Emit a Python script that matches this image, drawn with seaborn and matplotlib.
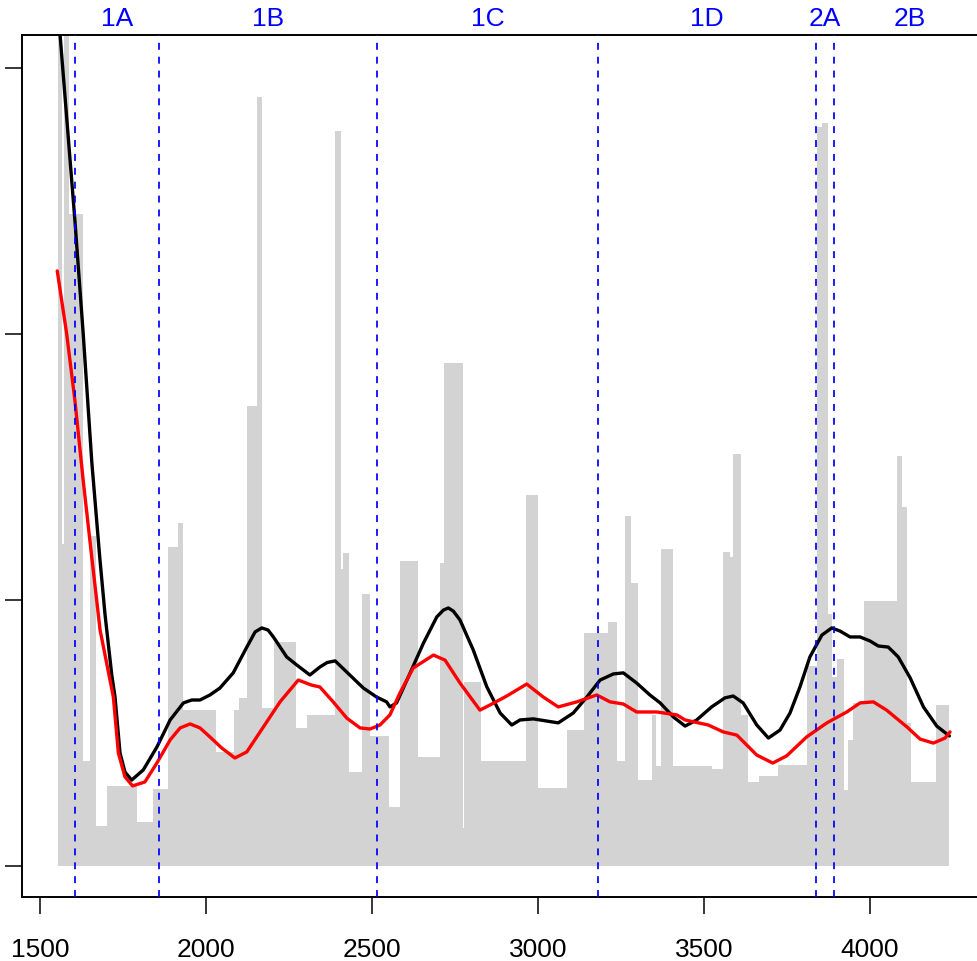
import numpy as np
import pandas as pd
import matplotlib
matplotlib.use("Agg")
import matplotlib.pyplot as plt
import matplotlib.transforms as mtransforms
import seaborn as sns

# Step profile: bin edges (position) and bin heights
bin_edges = [1553, 1567, 1571, 1588, 1630, 1651, 1670, 1702, 1792, 1839, 1886, 1915,
             1932, 2030, 2085, 2099, 2124, 2155, 2168, 2205, 2270, 2304, 2389, 2406,
             2412, 2431, 2471, 2494, 2551, 2584, 2640, 2705, 2717, 2773, 2777, 2828,
             2963, 3001, 3086, 3140, 3210, 3237, 3262, 3279, 3302, 3343, 3355, 3370,
             3406, 3523, 3556, 3578, 3586, 3611, 3633, 3667, 3724, 3809, 3840, 3856,
             3872, 3885, 3900, 3922, 3935, 3950, 3982, 4080, 4096, 4111, 4123, 4199,
             4239]
bin_heights = [3.30, 1.21, 3.35, 2.45, 0.395, 1.24, 0.152, 0.30, 0.165, 0.29, 1.20,
               1.29, 0.586, 0.43, 0.586, 0.63, 1.73, 2.89, 0.593, 0.842, 0.518, 0.568,
               2.763, 1.117, 1.177, 0.355, 1.024, 0.49, 0.222, 1.146, 0.41, 1.14, 1.89,
               0.143, 0.693, 0.395, 1.395, 0.293, 0.511, 0.876, 0.917, 0.395, 1.314,
               1.064, 0.323, 0.568, 0.376, 1.19, 0.376, 0.365, 1.18, 1.16, 1.55, 0.568,
               0.314, 0.338, 0.38, 0.75, 2.78, 2.795, 0.947, 0.71, 0.779, 0.286, 0.474,
               0.614, 0.997, 1.54, 1.35, 0.539, 0.317, 0.605]

# Smoothed curves
black_x = [1553, 1560, 1605, 1630, 1656, 1680, 1696, 1716, 1726, 1741, 1756, 1776,
           1811, 1852, 1892, 1932, 1957, 1982, 2012, 2042, 2082, 2123, 2148, 2168,
           2187, 2203, 2243, 2273, 2313, 2343, 2365, 2389, 2424, 2474, 2514, 2544,
           2554, 2574, 2615, 2655, 2695, 2715, 2730, 2745, 2765, 2805, 2846, 2886,
           2921, 2946, 2986, 3026, 3061, 3106, 3147, 3187, 3227, 3257, 3297, 3337,
           3368, 3408, 3443, 3478, 3523, 3563, 3588, 3618, 3659, 3694, 3729, 3759,
           3789, 3819, 3855, 3885, 3910, 3940, 3970, 4000, 4025, 4055, 4085, 4121,
           4161, 4201, 4239]
black_y = [3.25, 3.132, 2.429, 2.004, 1.519, 1.16, 0.944, 0.72, 0.635, 0.425, 0.353,
           0.323, 0.361, 0.447, 0.549, 0.613, 0.624, 0.624, 0.643, 0.669, 0.726, 0.823,
           0.880, 0.895, 0.887, 0.861, 0.786, 0.756, 0.718, 0.748, 0.765, 0.771, 0.729,
           0.669, 0.635, 0.617, 0.598, 0.613, 0.726, 0.838, 0.936, 0.962, 0.970, 0.958,
           0.925, 0.812, 0.673, 0.575, 0.530, 0.549, 0.553, 0.545, 0.538, 0.575, 0.635,
           0.699, 0.722, 0.726, 0.688, 0.643, 0.613, 0.560, 0.526, 0.549, 0.598, 0.632,
           0.639, 0.613, 0.530, 0.481, 0.511, 0.575, 0.673, 0.786, 0.868, 0.895, 0.883,
           0.861, 0.861, 0.846, 0.827, 0.823, 0.786, 0.707, 0.598, 0.526, 0.489]

red_x = [1552, 1580, 1605, 1630, 1656, 1681, 1721, 1736, 1756, 1779, 1816, 1852,
         1892, 1922, 1952, 1982, 2012, 2047, 2087, 2123, 2173, 2223, 2278, 2318,
         2343, 2383, 2424, 2464, 2494, 2524, 2554, 2584, 2624, 2685, 2720, 2765,
         2825, 2855, 2906, 2966, 3016, 3061, 3117, 3177, 3217, 3257, 3297, 3358,
         3418, 3443, 3513, 3558, 3599, 3659, 3707, 3749, 3809, 3870, 3930, 3970,
         4010, 4050, 4111, 4151, 4191, 4226, 4241]
red_y = [2.237, 2.004, 1.752, 1.451, 1.16, 0.887, 0.635, 0.425, 0.335, 0.301, 0.316,
         0.387, 0.474, 0.519, 0.534, 0.519, 0.485, 0.444, 0.406, 0.429, 0.523, 0.617,
         0.699, 0.680, 0.673, 0.617, 0.556, 0.519, 0.515, 0.530, 0.568, 0.650, 0.744,
         0.793, 0.774, 0.688, 0.586, 0.605, 0.639, 0.684, 0.635, 0.598, 0.617, 0.643,
         0.617, 0.609, 0.579, 0.579, 0.568, 0.549, 0.530, 0.504, 0.492, 0.417, 0.387,
         0.414, 0.485, 0.538, 0.579, 0.613, 0.617, 0.586, 0.523, 0.477, 0.462, 0.481,
         0.504]

# Phase boundaries and their labels
phase_bounds = [1605, 1858, 2515, 3181, 3837, 3892, 4349]
phase_labels = ["1A", "1B", "1C", "1D", "2A", "2B"]

x_ticks = [1500, 2000, 2500, 3000, 3500, 4000]
y_ticks = [0, 1, 2, 3]

sns.set_style("ticks")
plt.rcParams["font.family"] = ["Liberation Sans", "DejaVu Sans"]

W, H = 977, 961
fig = plt.figure(figsize=(W / 100, H / 100), dpi=100)
ax_left, ax_right, ax_top, ax_bottom = 21.7, 986.0, 35.0, 897.3
ax = fig.add_axes([ax_left / W, 1 - ax_bottom / H,
                   (ax_right - ax_left) / W, (ax_bottom - ax_top) / H])

# Grey step profile built as a weighted histogram (one weight per bin)
edges = np.array(bin_edges, dtype=float)
profile = pd.DataFrame({
    "pos": (edges[:-1] + edges[1:]) / 2,
    "height": np.array(bin_heights, dtype=float),
})
sns.histplot(data=profile, x="pos", weights="height", bins=list(edges),
             element="step", fill=True, color="#D3D3D3", alpha=1, linewidth=0,
             ax=ax, zorder=1)

curves = pd.DataFrame({
    "x": black_x + red_x,
    "y": black_y + red_y,
    "series": ["black"] * len(black_x) + ["red"] * len(red_x),
})
sns.lineplot(data=curves, x="x", y="y", hue="series",
             palette={"black": "black", "red": "#FF0000"},
             linewidth=2.4, legend=False, ax=ax, zorder=3, sort=True)

for b in phase_bounds[:-1]:
    ax.axvline(b, color="#0000FF", linestyle=(0, (4, 4)), linewidth=1.25, zorder=4)

trans = mtransforms.blended_transform_factory(ax.transData, ax.transAxes)
for lab, lo, hi in zip(phase_labels, phase_bounds[:-1], phase_bounds[1:]):
    ax.text((lo + hi) / 2, 1.0186, lab, transform=trans, ha="center", va="center",
            color="#0000FF", fontsize=19, clip_on=False)

ax.set_xlim(1444.9, 4349.4)
ax.set_ylim(-0.1177, 3.124)
ax.set_xticks(x_ticks)
ax.set_xticklabels([str(t) for t in x_ticks])
ax.set_yticks(y_ticks)
ax.set_yticklabels([])
ax.set_xlabel("")
ax.set_ylabel("")
ax.tick_params(axis="both", direction="out", length=12.2, width=1.1,
               colors="black", labelsize=19)
ax.tick_params(axis="x", pad=17)
for side in ["left", "bottom", "top"]:
    ax.spines[side].set_visible(True)
    ax.spines[side].set_linewidth(1.4)
    ax.spines[side].set_color("black")
ax.spines["right"].set_visible(False)
ax.set_facecolor("white")
fig.patch.set_facecolor("white")

fig.savefig("out.png", dpi=100)
